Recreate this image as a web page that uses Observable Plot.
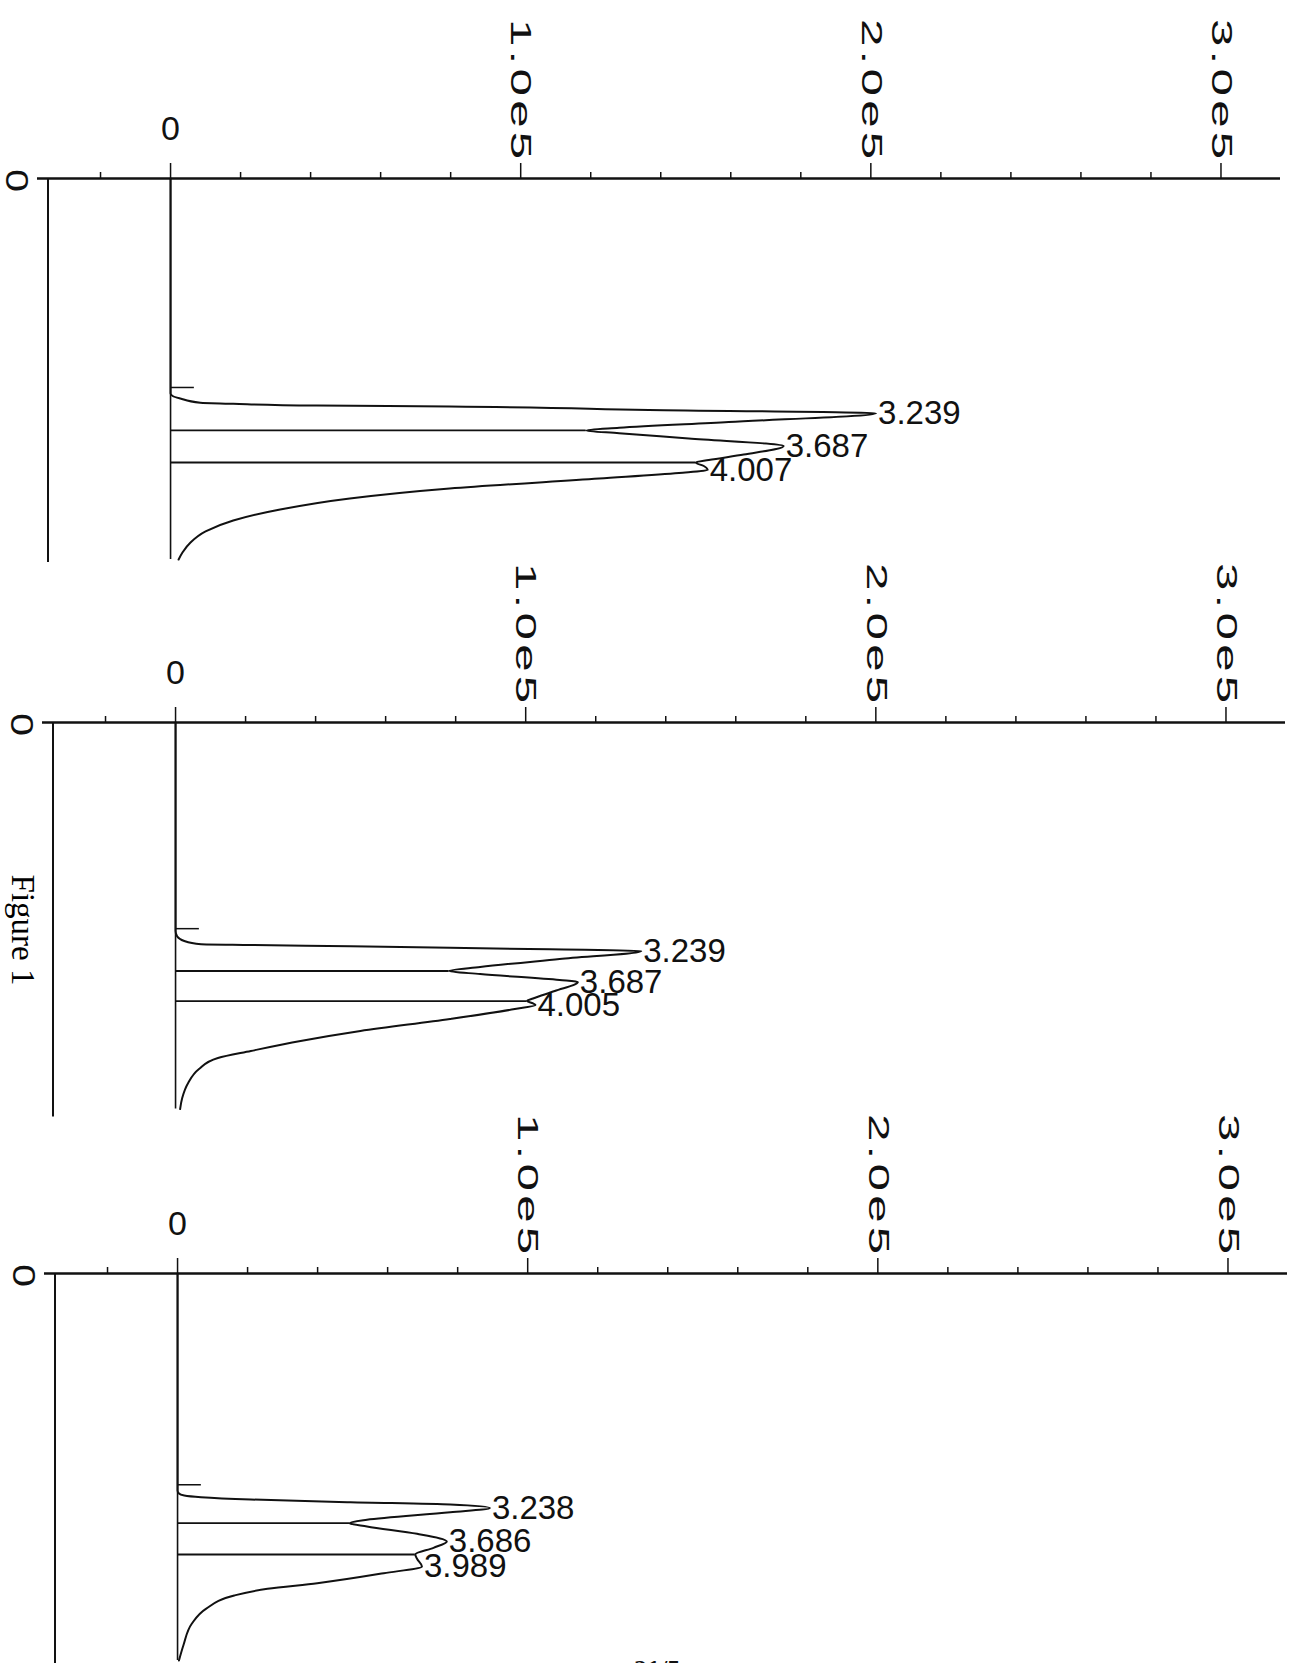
<!DOCTYPE html>
<html>
<head>
<meta charset="utf-8">
<script src="https://cdn.jsdelivr.net/npm/d3@7"></script>
<script src="https://cdn.jsdelivr.net/npm/@observablehq/plot@0.6"></script>
<style>
html, body { margin: 0; padding: 0; background: #fff; }
body { width: 1290px; height: 1663px; position: relative; overflow: hidden; }
.panel { position: absolute; width: 1290px; }
#figlabel { position: absolute; left: 22px; top: 930px; transform: translate(-50%, -50%) rotate(90deg);
  font-family: "Liberation Serif", serif; font-size: 33px; color: #000; white-space: nowrap; }
#pagenum { position: absolute; left: 634px; top: 1655px; font-family: "Liberation Serif", serif;
  font-weight: bold; font-size: 26px; color: #111; }
</style>
</head>
<body>
<div id="p1" class="panel"></div>
<div id="p2" class="panel"></div>
<div id="p3" class="panel"></div>
<div id="figlabel">Figure 1</div>
<div id="pagenum">21/5</div>
<script>
// ---- shared axis data ----
const majorTicks = [0, 100000, 200000, 300000];
const majorLabels = ["0", "1.0e5", "2.0e5", "3.0e5"];
const minorTicks = [-20000, 20000, 40000, 60000, 80000, 120000, 140000, 160000, 180000,
  220000, 240000, 260000, 280000];
const timeLabel = "0";

// ---- panel 1 ----
const trace1Time = [0.07, 2.975, 3.009, 3.043, 3.101, 3.115, 3.138, 3.151, 3.198, 3.242, 3.361, 3.439,
  3.475, 3.512, 3.584, 3.686, 3.800, 3.874, 3.908, 3.955, 4.009, 4.05, 4.124, 4.259, 4.394, 4.543,
  4.692, 4.84, 4.989, 5.124, 5.219];
const trace1Signal = [0, 0, 600, 2800, 8500, 17900, 41800, 79700, 136600, 201500, 159400, 128100,
  118700, 128100, 148000, 175100, 163700, 153700, 150000, 152300, 153400, 145200, 122400, 79700,
  51200, 31300, 17900, 10000, 5700, 3400, 2300];
const peak1Labels = ["3.239", "3.687", "4.007"];
const peak1Time = [3.242, 3.686, 4.009];
const peak1Signal = [201500, 175100, 153400];
const valley1Time = [3.475, 3.908];
const valley1Signal = [118700, 150000];
const marker1Time = [2.894];
const marker1Length = [6800];

// ---- panel 2 ----
const trace2Time = [0.17, 2.988, 3.055, 3.123, 3.167, 3.177, 3.194, 3.213, 3.235, 3.258, 3.366, 3.474,
  3.528, 3.569, 3.65, 3.677, 3.799, 3.9, 3.934, 3.967, 3.988, 4.042, 4.177, 4.339, 4.474, 4.609,
  4.704, 4.853, 5.042, 5.245, 5.394];
const trace2Signal = [0, 0, 400, 2500, 7300, 21500, 50000, 78400, 106900, 133000, 109700, 87000,
  78100, 87000, 109700, 114900, 108300, 102100, 100400, 102100, 102800, 96900, 78400, 52800,
  35700, 21500, 12100, 6700, 3600, 1900, 1300];
const peak2Labels = ["3.239", "3.687", "4.005"];
const peak2Time = [3.258, 3.677, 3.988];
const peak2Signal = [133000, 114900, 102800];
const valley2Time = [3.528, 3.934];
const valley2Signal = [78100, 100400];
const marker2Time = [2.956];
const marker2Length = [6800];

// ---- panel 3 ----
const trace3Time = [0.05, 2.982, 3.023, 3.05, 3.073, 3.104, 3.141, 3.172, 3.219, 3.276, 3.378, 3.424,
  3.469, 3.568, 3.672, 3.757, 3.847, 3.905, 4.009, 4.1, 4.235, 4.311, 4.401, 4.581, 4.78, 5.07, 5.28];
const trace3Signal = [0, 0, 400, 1900, 6700, 20900, 49400, 77900, 89200, 77900, 54100, 49100,
  54100, 68400, 76900, 73100, 67900, 68400, 69800, 58900, 39900, 25700, 16200, 8100, 4100, 1700, 400];
const peak3Labels = ["3.238", "3.686", "3.989"];
const peak3Time = [3.219, 3.672, 4.009];
const peak3Signal = [89200, 76900, 69800];
const valley3Time = [3.424, 3.847];
const valley3Signal = [49100, 67900];
const marker3Time = [2.905];
const marker3Length = [6800];

// ---- layout config (not data) ----
const xDomain = [-38000, 317000];
const timeAxisAt = -35000;
const PX_PER_MIN = 74;
const AXIS_Y = 178;
const FONT = "Liberation Sans, Arial, sans-serif";

function stretch(t, sx) {
  const tr = t.getAttribute("transform");
  if (tr && /rotate/.test(tr)) t.setAttribute("transform", tr + ` scale(${sx},1)`);
}

function buildPanel(cfg) {
  const trace = cfg.time.map((t, i) => ({t, s: cfg.signal[i]}));
  const peaks = cfg.peakTime.map((t, i) => ({t, s: cfg.peakSignal[i], label: cfg.peakLabels[i]}));
  const valleys = cfg.valleyTime.map((t, i) => ({t, s: cfg.valleySignal[i]}));
  const markers = cfg.markerTime.map((t, i) => ({t, s: cfg.markerLength[i]}));
  const majors = majorTicks.map((v, i) => ({v, label: majorLabels[i]}));
  const yBottom = AXIS_Y + (cfg.tEnd - cfg.t0) * PX_PER_MIN;
  const height = Math.round(yBottom + 4);
  const ink = "#111";
  const svg = Plot.plot({
    width: 1290,
    height,
    marginTop: AXIS_Y,
    marginLeft: 37,
    marginRight: 10,
    marginBottom: height - yBottom,
    x: {domain: xDomain, range: [37, 1280]},
    y: {domain: [cfg.t0, cfg.tEnd], range: [AXIS_Y, yBottom], axis: null},
    style: {background: "transparent", overflow: "visible", maxWidth: "none", color: ink},
    marks: [
      // horizontal (signal) axis line
      Plot.ruleY([cfg.t0], {x1: xDomain[0], x2: xDomain[1], stroke: ink, strokeWidth: 2.4}),
      Plot.axisX(minorTicks, {anchor: "top", tickSize: 7, tickFormat: () => "", label: null, stroke: ink, strokeWidth: 1.5}),
      Plot.axisX(majorTicks, {anchor: "top", tickSize: 16, tickFormat: () => "", label: null, stroke: ink, strokeWidth: 1.5}),
      // tick labels
      Plot.text(majors.filter(d => d.v === 0), {x: "v", text: "label", frameAnchor: "top", dy: -49,
        lineAnchor: "middle", fontSize: 34, fontFamily: FONT, fill: ink}),
      Plot.text(majors.filter(d => d.v !== 0), {x: "v", text: "label", frameAnchor: "top", dy: -15,
        rotate: 90, textAnchor: "end", lineAnchor: "middle", fontSize: 29, fontFamily: FONT, fill: ink}),
      // time-axis zero label
      Plot.text([timeLabel], {text: d => d, frameAnchor: "top-left", dx: -21, dy: 2, rotate: 90,
        textAnchor: "middle", lineAnchor: "middle", fontSize: 32, fontFamily: FONT, fill: ink}),
      // vertical time axis
      Plot.ruleX([timeAxisAt], {y1: cfg.t0, y2: cfg.tEnd, stroke: ink, strokeWidth: 2}),
      // zero-signal baseline
      Plot.ruleX([0], {y1: cfg.t0, y2: cfg.time[cfg.time.length - 1], stroke: ink, strokeWidth: 1.6}),
      // integration event marker
      Plot.ruleY(markers, {y: "t", x1: 0, x2: "s", stroke: ink, strokeWidth: 1.5}),
      // drop lines
      Plot.ruleY(valleys, {y: "t", x1: 0, x2: "s", stroke: ink, strokeWidth: 1.8}),
      // trace
      Plot.line(trace, {x: "s", y: "t", curve: "monotone-y", stroke: ink, strokeWidth: 2}),
      // peak labels
      Plot.text(peaks, {x: "s", y: "t", text: "label", textAnchor: "start", lineAnchor: "middle", dx: 2,
        fontSize: 33, fontFamily: FONT, fill: ink})
    ]
  });
  // widen the rotated scale labels like the plotter font
  const rotated = new Set(majorLabels.slice(1));
  svg.querySelectorAll("text").forEach(t => {
    if (rotated.has(t.textContent)) {
      t.setAttribute("letter-spacing", "2.5");
      stretch(t, 1.7);
    } else if (t.textContent === timeLabel) {
      stretch(t, 1.3);
    }
  });
  return svg;
}

const panels = [
  {id: "p1", top: 0, left: 0, t0: 0.07, tEnd: 5.26,
   time: trace1Time, signal: trace1Signal, peakLabels: peak1Labels, peakTime: peak1Time, peakSignal: peak1Signal,
   valleyTime: valley1Time, valleySignal: valley1Signal, markerTime: marker1Time, markerLength: marker1Length},
  {id: "p2", top: 543.5, left: 4.5, t0: 0.17, tEnd: 5.5,
   time: trace2Time, signal: trace2Signal, peakLabels: peak2Labels, peakTime: peak2Time, peakSignal: peak2Signal,
   valleyTime: valley2Time, valleySignal: valley2Signal, markerTime: marker2Time, markerLength: marker2Length},
  {id: "p3", top: 1095, left: 6.5, t0: 0.05, tEnd: 5.32,
   time: trace3Time, signal: trace3Signal, peakLabels: peak3Labels, peakTime: peak3Time, peakSignal: peak3Signal,
   valleyTime: valley3Time, valleySignal: valley3Signal, markerTime: marker3Time, markerLength: marker3Length}
];

for (const p of panels) {
  const el = document.getElementById(p.id);
  el.style.top = p.top + "px";
  el.style.left = p.left + "px";
  el.appendChild(buildPanel(p));
}
</script>
</body>
</html>
